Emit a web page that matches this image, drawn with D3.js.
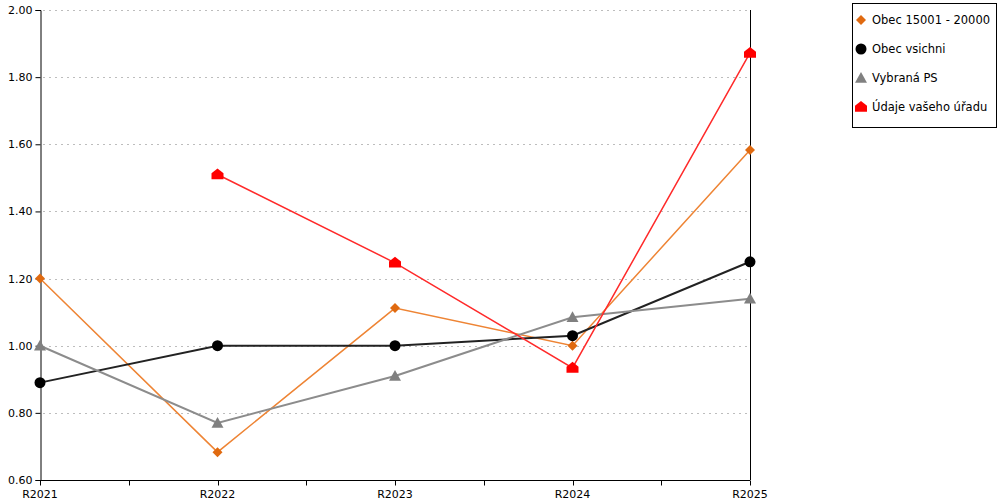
<!DOCTYPE html>
<html>
<head>
<meta charset="utf-8">
<script src="https://cdn.jsdelivr.net/npm/d3@7"></script>
<style>
  body { margin: 0; background: #fff; }
  svg { font-family: "DejaVu Sans", Verdana, sans-serif; }
</style>
</head>
<body>
<svg width="1000" height="500"></svg>
<script>
// categories on the x axis
var years = ["R2021", "R2022", "R2023", "R2024", "R2025"];
var yTicks = [0.6, 0.8, 1.0, 1.2, 1.4, 1.6, 1.8, 2.0];

// series values
var obec15001 = [1.20, 0.683, 1.112, 1.00, 1.583];
var obecVsichni = [0.89, 1.00, 1.00, 1.03, 1.25];
var vybranaPS = [1.00, 0.77, 0.91, 1.085, 1.14];
var udajeUradu = [null, 1.51, 1.247, 0.934, 1.872];

var seriesNames = ["Obec 15001 - 20000", "Obec vsichni", "Vybraná PS", "Údaje vašeho úřadu"];

var svg = d3.select("svg");

// plot edges (window.top is reserved, so no "top" here)
var plotLeft = 40, plotRight = 750, plotTop = 10, plotBottom = 480;

var xScale = d3.scalePoint()
    .domain(years)
    .range([plotLeft, plotRight]);

var yScale = d3.scaleLinear()
    .domain([0.6, 2.0])
    .range([plotBottom, plotTop]);

var series = [
    { name: seriesNames[0], values: obec15001, line: "#ee8434", mark: "#e06a10", width: 1.5, shape: "diamond" },
    { name: seriesNames[1], values: obecVsichni, line: "#222222", mark: "#000000", width: 2, shape: "circle" },
    { name: seriesNames[2], values: vybranaPS, line: "#8c8c8c", mark: "#808080", width: 2, shape: "triangle" },
    { name: seriesNames[3], values: udajeUradu, line: "#ff2a2a", mark: "#ff0000", width: 1.5, shape: "house" }
];

// grid lines
svg.append("g")
    .selectAll("line")
    .data(yTicks.filter(d => d > 0.6))
    .join("line")
    .attr("x1", plotLeft + 3)
    .attr("x2", plotRight)
    .attr("y1", d => Math.round(yScale(d)) + 0.5)
    .attr("y2", d => Math.round(yScale(d)) + 0.5)
    .attr("stroke", "#bdbdbd")
    .attr("stroke-dasharray", "2,4")
    .attr("stroke-width", 1);

// y axis
var yAxis = d3.axisLeft(yScale)
    .tickValues(yTicks)
    .tickFormat(d3.format(".2f"))
    .tickSize(5)
    .tickPadding(3);

svg.append("g")
    .attr("transform", "translate(" + (plotLeft + 0.5) + ",0)")
    .call(yAxis)
    .call(g => g.selectAll("text").attr("font-size", 11).attr("fill", "#000").attr("font-family", "DejaVu Sans"))
    .call(g => g.selectAll("line,path").attr("stroke", "#000"));

// x axis: ticks between the categories, labels on them
var step = xScale.step();
var midTicks = years.slice(0, -1).map(d => xScale(d) + step / 2);

var xg = svg.append("g")
    .attr("transform", "translate(0," + (plotBottom + 0.5) + ")");

xg.append("line")
    .attr("x1", plotLeft)
    .attr("x2", plotRight)
    .attr("stroke", "#000");

xg.selectAll("line.tick")
    .data(midTicks.concat(years.map(d => xScale(d))))
    .join("line")
    .attr("class", "tick")
    .attr("x1", d => Math.round(d) + 0.5)
    .attr("x2", d => Math.round(d) + 0.5)
    .attr("y1", 0)
    .attr("y2", 5)
    .attr("stroke", "#000");

xg.selectAll("text")
    .data(years)
    .join("text")
    .attr("x", d => xScale(d))
    .attr("y", 17)
    .attr("text-anchor", "middle")
    .attr("font-size", 11)
    .text(d => d);

// right border line
svg.append("line")
    .attr("x1", plotRight + 0.5)
    .attr("x2", plotRight + 0.5)
    .attr("y1", plotTop)
    .attr("y2", plotBottom)
    .attr("stroke", "#000");

// marker shapes
function markerPath(shape, s) {
    if (shape === "diamond") return "M0," + (-s) + "L" + s + ",0L0," + s + "L" + (-s) + ",0Z";
    if (shape === "triangle") return "M0," + (-s) + "L" + s + "," + (s * 0.8) + "L" + (-s) + "," + (s * 0.8) + "Z";
    if (shape === "house") return "M0," + (-s) + "L" + s + "," + (-s * 0.2) + "L" + s + "," + s * 0.8 + "L" + (-s) + "," + s * 0.8 + "L" + (-s) + "," + (-s * 0.2) + "Z";
    return null;
}

function drawMarker(g, shape, color) {
    if (shape === "circle") {
        g.append("circle").attr("r", 5.5).attr("fill", color);
    } else {
        var size = shape === "diamond" ? 5 : 6;
        g.append("path").attr("d", markerPath(shape, size)).attr("fill", color);
    }
}

var line = d3.line()
    .defined(d => d.v != null)
    .x(d => xScale(d.year))
    .y(d => yScale(d.v));

series.forEach(function (s) {
    var pts = years.map((y, i) => ({ year: y, v: s.values[i] }));
    svg.append("path")
        .datum(pts)
        .attr("fill", "none")
        .attr("stroke", s.line)
        .attr("stroke-width", s.width)
        .attr("d", line);
});

series.forEach(function (s) {
    years.forEach(function (y, i) {
        if (s.values[i] == null) return;
        var g = svg.append("g")
            .attr("transform", "translate(" + xScale(y) + "," + yScale(s.values[i]) + ")");
        drawMarker(g, s.shape, s.mark);
    });
});

// legend
var legend = svg.append("g");
legend.append("rect")
    .attr("x", 852.5)
    .attr("y", 3.5)
    .attr("width", 144)
    .attr("height", 124)
    .attr("fill", "#fff")
    .attr("stroke", "#000");

var rowY = [20, 49, 78, 107];
series.forEach(function (s, i) {
    var g = legend.append("g")
        .attr("transform", "translate(861," + rowY[i] + ")");
    drawMarker(g, s.shape, s.mark);
    legend.append("text")
        .attr("x", 872)
        .attr("y", rowY[i] + 4)
        .attr("font-size", 11.5)
        .text(s.name);
});
</script>
</body>
</html>
